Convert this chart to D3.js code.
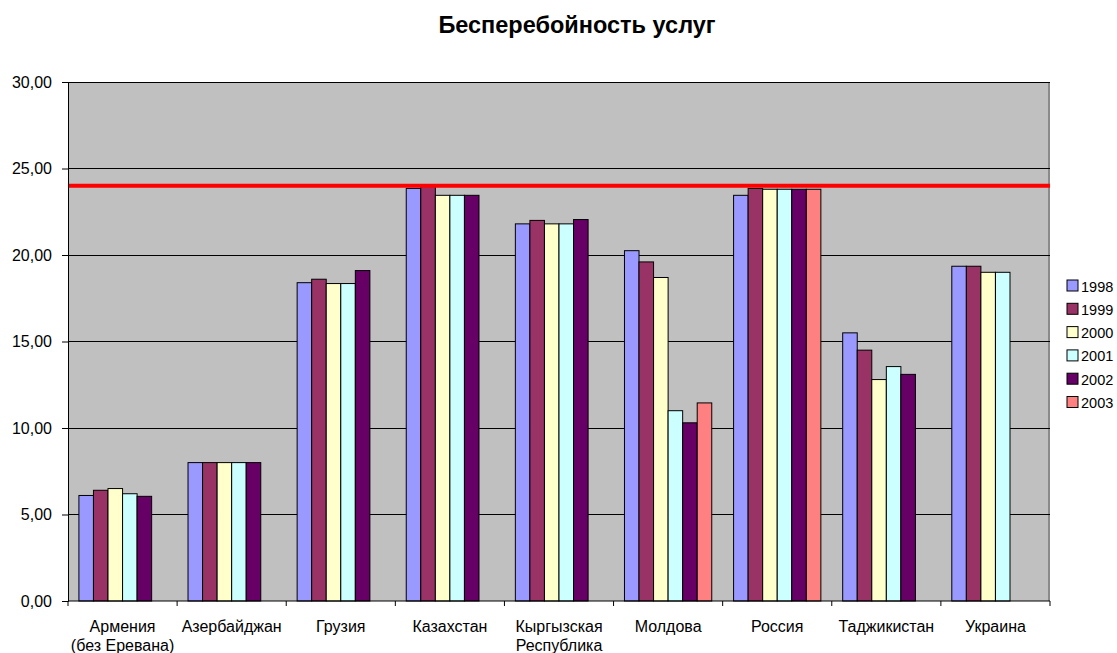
<!DOCTYPE html>
<html><head><meta charset="utf-8">
<script src="https://cdn.jsdelivr.net/npm/d3@7"></script>
<style>body{margin:0;background:#fff;}svg{display:block;font-family:Arial,"Liberation Sans",sans-serif;}</style>
</head><body><svg id="c" width="1117" height="653"></svg>
<script>
const categories = [["Армения","(без Еревана)"],["Азербайджан"],["Грузия"],["Казахстан"],["Кыргызская","Республика"],["Молдова"],["Россия"],["Таджикистан"],["Украина"]];
const years = ["1998","1999","2000","2001","2002","2003"];
const colors = ["#9999FF","#993366","#FFFFCC","#CCFFFF","#660066","#FF8080"];
const v1998 = [6.1, 8.0, 18.4, 23.85, 21.8, 20.25, 23.45, 15.5, 19.35];
const v1999 = [6.4, 8.0, 18.6, 24.0, 22.0, 19.6, 23.85, 14.5, 19.35];
const v2000 = [6.5, 8.0, 18.35, 23.45, 21.8, 18.7, 23.8, 12.8, 19.0];
const v2001 = [6.2, 8.0, 18.35, 23.45, 21.8, 11.0, 23.8, 13.55, 19.0];
const v2002 = [6.05, 8.0, 19.1, 23.45, 22.05, 10.3, 23.8, 13.1, null];
const v2003 = [null, null, null, null, null, 11.45, 23.8, null, null];
const series = [v1998, v1999, v2000, v2001, v2002, v2003];
const yTicks = [0,5,10,15,20,25,30];
const targetLine = 24.0;
const title = "Бесперебойность услуг";

const svg = d3.select("#c");
const L = 68, R = 1050, T = 82, B = 601;
const x = d3.scaleBand().domain(d3.range(categories.length)).range([L, R]).paddingInner(0).paddingOuter(0);
const y = d3.scaleLinear().domain([0, 30]).range([B, T]);
const barW = x.bandwidth() / (years.length + 1.5);
const inner = d3.scaleBand().domain(d3.range(years.length)).range([0.75 * barW, 0.75 * barW + years.length * barW]);

svg.append("text").attr("x", 577).attr("y", 33).attr("text-anchor", "middle")
  .attr("font-size", 23.5).attr("font-weight", "bold").text(title);

svg.append("rect").attr("x", L).attr("y", T).attr("width", R - L).attr("height", B - T).attr("fill", "#C0C0C0");
svg.append("line").attr("x1", R - 1).attr("x2", R - 1).attr("y1", T).attr("y2", B)
  .attr("stroke", "#8a8a8a").attr("stroke-width", 2);

svg.append("g").selectAll("line").data(yTicks.filter(d => d > 0)).join("line")
  .attr("x1", L).attr("x2", R).attr("y1", d => y(d)).attr("y2", d => y(d))
  .attr("stroke", "#000").attr("stroke-width", 1).attr("shape-rendering", "crispEdges");

series.forEach((s, si) => {
  svg.append("g").selectAll("rect").data(s.map((v, i) => ({v, i})).filter(d => d.v != null)).join("rect")
    .attr("x", d => x(d.i) + inner(si))
    .attr("y", d => y(d.v))
    .attr("width", inner.bandwidth())
    .attr("height", d => y(0) - y(d.v))
    .attr("fill", colors[si]).attr("stroke", "#000").attr("stroke-width", 1);
});

svg.append("line").attr("x1", L).attr("x2", R).attr("y1", y(targetLine)).attr("y2", y(targetLine))
  .attr("stroke", "#FF0000").attr("stroke-width", 4);

const yAxis = d3.axisLeft(y).tickValues(yTicks).tickSize(6).tickPadding(10)
  .tickFormat(d => d3.format(".2f")(d).replace(".", ","));
const ya = svg.append("g").attr("transform", `translate(${L},0)`).call(yAxis);
ya.selectAll("text").attr("font-size", 16).attr("fill", "#000").attr("font-family", "Arial, 'Liberation Sans', sans-serif");
ya.selectAll("line,path").attr("stroke", "#000");

svg.append("line").attr("x1", L).attr("x2", R).attr("y1", B).attr("y2", B).attr("stroke", "#000");
const bounds = d3.range(categories.length + 1).map(i => i < categories.length ? x(i) : R);
svg.append("g").selectAll("line").data(bounds).join("line")
  .attr("x1", d => d).attr("x2", d => d).attr("y1", B).attr("y2", B + 5).attr("stroke", "#000");
const xl = svg.append("g").selectAll("text").data(categories).join("text")
  .attr("x", (d, i) => x(i) + x.bandwidth() / 2).attr("y", 632)
  .attr("text-anchor", "middle").attr("font-size", 16);
xl.selectAll("tspan").data(d => d).join("tspan")
  .attr("x", function() { return d3.select(this.parentNode).attr("x"); })
  .attr("dy", (d, i) => i === 0 ? 0 : 19).text(d => d);

const lg = svg.append("g").selectAll("g").data(years).join("g")
  .attr("transform", (d, i) => `translate(1067,${280 + i * 23.3})`);
lg.append("rect").attr("width", 11).attr("height", 11).attr("fill", (d, i) => colors[i]).attr("stroke", "#000");
lg.append("text").attr("x", 14).attr("y", 11.5).attr("font-size", 14.5).text(d => d);
</script></body></html>
